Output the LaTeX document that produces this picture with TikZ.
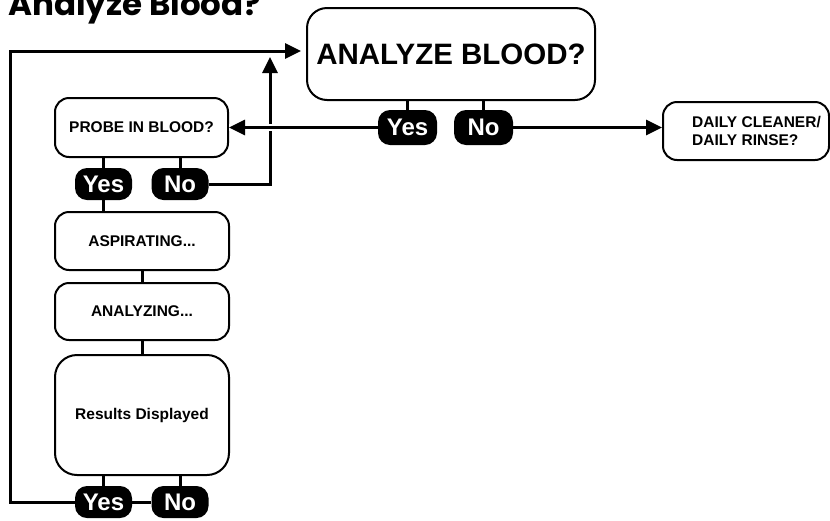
\documentclass[tikz,border=0pt]{standalone}
\usepackage{fontspec}
\setmainfont{Liberation Sans}
\newfontfamily\titlefont{Poppins}
\usetikzlibrary{arrows.meta}
\tikzset{
  box/.style={draw, line width=2pt, rounded corners=14pt, inner sep=0pt, font=\bfseries\fontsize{15.5}{18}\selectfont},
  pill/.style={fill=black, rounded corners=12pt, inner sep=0pt, text=white, font=\bfseries\fontsize{24}{26}\selectfont},
  conn/.style={line width=3pt},
  arr/.style={line width=3pt, -{Triangle[length=16pt,width=15pt]}},
}
\begin{document}
\begin{tikzpicture}[x=1pt,y=-1pt]
\useasboundingbox (0,0) rectangle (830,520);
% title
\node[anchor=base west, inner sep=0pt, font=\titlefont\bfseries\fontsize{32.5}{34}\selectfont] (title) at (8,15) {Analyze Blood?};
% boxes
\node[box, rounded corners=20pt, minimum width=288pt, minimum height=92pt, font=\bfseries\fontsize{29.5}{32}\selectfont] (analyze) at (451,54) {ANALYZE BLOOD?};
\node[box, minimum width=173pt, minimum height=59pt] (probe) at (141.5,127.5) {PROBE IN BLOOD?};
\node[box, minimum width=174pt, minimum height=58pt] (aspir) at (142,241) {ASPIRATING...};
\node[box, minimum width=174pt, minimum height=57pt] (anlz) at (142,311.5) {ANALYZING...};
\node[box, minimum width=174pt, minimum height=120pt, rounded corners=22pt] (results) at (142,415) {Results Displayed};
\node[box, minimum width=166pt, minimum height=58pt] (daily) at (746,131) {};
\node[anchor=west, align=left, inner sep=0pt, font=\bfseries\fontsize{15.5}{18}\selectfont] (dailytext) at (692,131) {DAILY CLEANER/\\DAILY RINSE?};
% pills
\node[pill, minimum width=59pt, minimum height=35pt] (aYes) at (407.5,127.5) {Yes};
\node[pill, minimum width=59pt, minimum height=35pt] (aNo) at (483.5,127.5) {No};
\node[pill, minimum width=57pt, minimum height=32pt] (pYes) at (103.5,184) {Yes};
\node[pill, minimum width=57pt, minimum height=32pt] (pNo) at (180,184) {No};
\node[pill, minimum width=57pt, minimum height=32pt] (rYes) at (103.5,502) {Yes};
\node[pill, minimum width=57pt, minimum height=32pt] (rNo) at (180,502) {No};
% coordinates
\coordinate (upTip) at (270,57);
\coordinate (loopL) at (10,51);
% stubs
\draw[conn] (aYes.north) -- (aYes.north |- analyze.south);
\draw[conn] (aNo.north) -- (aNo.north |- analyze.south);
\draw[conn] (pYes.north) -- (pYes.north |- probe.south);
\draw[conn] (pNo.north) -- (pNo.north |- probe.south);
\draw[conn] (pYes.south) -- (pYes.south |- aspir.north);
\draw[conn] (aspir.south) -- (anlz.north);
\draw[conn] (anlz.south) -- (results.north);
\draw[conn] (rYes.north) -- (rYes.north |- results.south);
\draw[conn] (rNo.north) -- (rNo.north |- results.south);
\draw[conn] (rYes.east) -- (rNo.west);
% No of probe up
\draw[arr] (pNo.east) -- (pNo.east -| upTip) -- (upTip);
% Yes of analyze to probe (over the vertical)
\draw[arr, preaction={draw=white, line width=7pt, arrows=-}] (aYes.west) -- (probe.east);
\draw[arr] (aNo.east) -- (aNo.east -| daily.west);
% loop
\draw[arr, shorten >=5pt] (rYes.west) -- (rYes.west -| loopL) -- (loopL) -- (loopL -| analyze.west);
\end{tikzpicture}
\end{document}
